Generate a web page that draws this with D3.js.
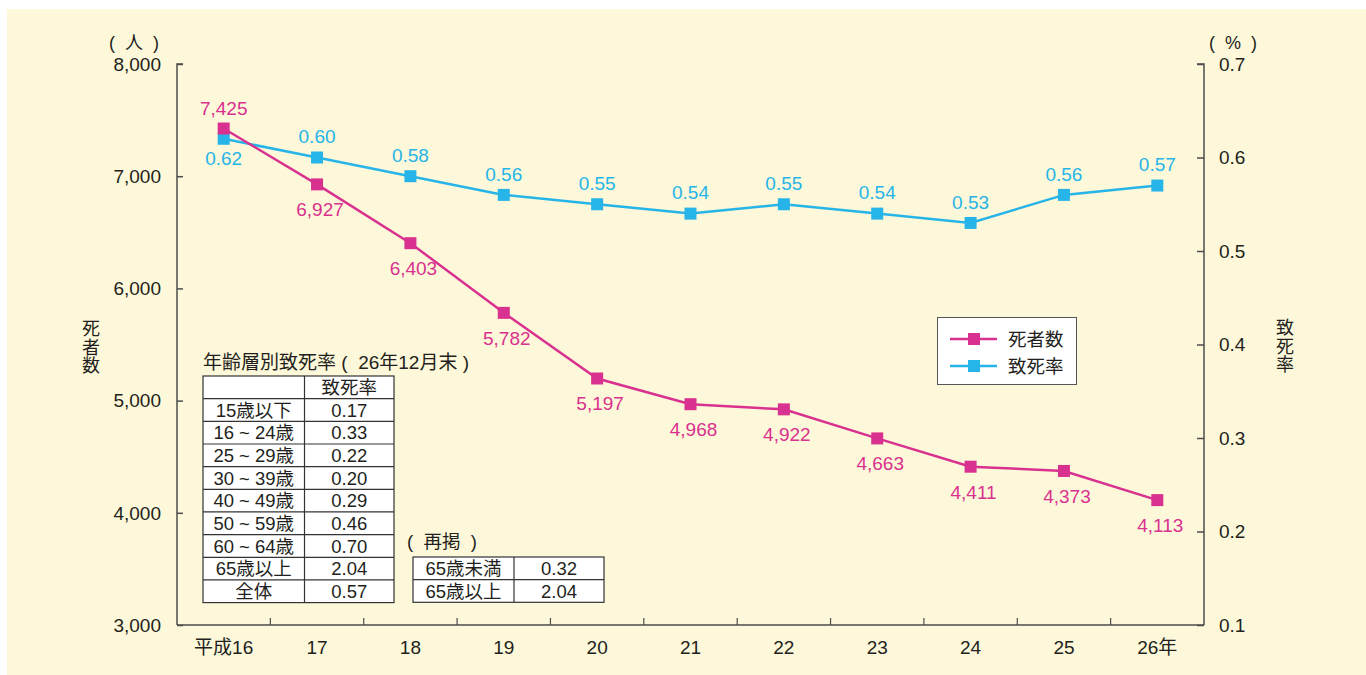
<!DOCTYPE html>
<html>
<head>
<meta charset="utf-8">
<script src="https://cdn.jsdelivr.net/npm/d3@7/dist/d3.min.js"></script>
<style>
  html, body { margin: 0; padding: 0; background: #ffffff; }
  svg { display: block; }
  text { font-family: "Liberation Sans", "Noto Sans CJK JP", sans-serif; white-space: pre; }
</style>
</head>
<body>
<svg id="chart" width="1366" height="675"></svg>
<script>
// Fiscal years (Heisei 16 .. 26)
const years = ["平成16", "17", "18", "19", "20", "21", "22", "23", "24", "25", "26年"];
// Traffic accident deaths (persons)
const deaths = [7425, 6927, 6403, 5782, 5197, 4968, 4922, 4663, 4411, 4373, 4113];
// Fatality rate (%)
const fatality = [0.62, 0.60, 0.58, 0.56, 0.55, 0.54, 0.55, 0.54, 0.53, 0.56, 0.57];

const leftTicks = [3000, 4000, 5000, 6000, 7000, 8000];
const rightTicks = [0.1, 0.2, 0.3, 0.4, 0.5, 0.6, 0.7];

// Age-group fatality table (end of Dec, H26)
const ageGroups = ["15歳以下", "16 ~ 24歳", "25 ~ 29歳", "30 ~ 39歳", "40 ~ 49歳", "50 ~ 59歳", "60 ~ 64歳", "65歳以上", "全体"];
const ageRates = ["0.17", "0.33", "0.22", "0.20", "0.29", "0.46", "0.70", "2.04", "0.57"];
// Restated groups
const subGroups = ["65歳未満", "65歳以上"];
const subRates = ["0.32", "2.04"];

const MAGENTA = "#d9318f";
const CYAN = "#27b4e8";
const TEXT = "#231f20";
const AXIS = "#4d4d4d";
const FS = 19;      // tick and value label size
const FT = 18.5;    // table text size

const svg = d3.select("#chart");

// background panel
svg.append("rect").attr("x", 7).attr("y", 9).attr("width", 1359).attr("height", 666).attr("fill", "#fdf8d9");

const pLeft = 177, pRight = 1204, pTop = 64, pBottom = 625;

const x = d3.scaleBand().domain(years).range([pLeft, pRight]).padding(0);
const cx = d => x(d) + x.bandwidth() / 2;
const yL = d3.scaleLinear().domain([3000, 8000]).range([pBottom, pTop]);
const yR = d3.scaleLinear().domain([0.1, 0.7]).range([pBottom, pTop]);

// left axis
const gL = svg.append("g").attr("transform", `translate(${pLeft},0)`)
  .call(d3.axisRight(yL).tickValues(leftTicks).tickSize(6).tickFormat(""));
gL.select(".domain").attr("stroke", AXIS).attr("stroke-width", 1.5).attr("d", `M6,${pTop}H0V${pBottom}`);
gL.selectAll(".tick line").attr("stroke", AXIS).attr("stroke-width", 1.5);
svg.append("g").selectAll("text").data(leftTicks).join("text")
  .attr("x", 161).attr("y", d => yL(d)).attr("dy", "0.36em")
  .attr("text-anchor", "end").attr("font-size", FS).attr("fill", TEXT)
  .text(d3.format(","));

// right axis
const gR = svg.append("g").attr("transform", `translate(${pRight},0)`)
  .call(d3.axisLeft(yR).tickValues(rightTicks).tickSize(7).tickFormat(""));
gR.select(".domain").attr("stroke", AXIS).attr("stroke-width", 1.5).attr("d", `M-7,${pTop}H0V${pBottom}`);
gR.selectAll(".tick line").attr("stroke", AXIS).attr("stroke-width", 1.5);
svg.append("g").selectAll("text").data(rightTicks).join("text")
  .attr("x", 1219).attr("y", d => yR(d)).attr("dy", "0.36em")
  .attr("text-anchor", "start").attr("font-size", FS).attr("fill", TEXT)
  .text(d3.format(".1f"));

// bottom axis: ticks at category boundaries, pointing up
svg.append("line").attr("x1", pLeft).attr("x2", pRight).attr("y1", pBottom).attr("y2", pBottom)
  .attr("stroke", AXIS).attr("stroke-width", 1.5);
svg.append("g").selectAll("line").data(years.slice(1)).join("line")
  .attr("x1", d => x(d)).attr("x2", d => x(d))
  .attr("y1", pBottom).attr("y2", pBottom - 7)
  .attr("stroke", AXIS).attr("stroke-width", 1.2);
svg.append("g").selectAll("text").data(years).join("text")
  .attr("x", d => cx(d)).attr("y", 647).attr("dy", "0.36em")
  .attr("text-anchor", "middle").attr("font-size", FS).attr("fill", TEXT)
  .text(d => d);

// axis units and titles
svg.append("text").attr("x", 134).attr("y", 43).attr("dy", "0.36em").attr("text-anchor", "middle")
  .attr("font-size", 18).attr("fill", TEXT).text("(  人  )");
svg.append("text").attr("x", 1233).attr("y", 43).attr("dy", "0.36em").attr("text-anchor", "middle")
  .attr("font-size", 18).attr("fill", TEXT).text("(  %  )");
function verticalTitle(str, xPos, yStart) {
  svg.append("g").selectAll("text").data(Array.from(str)).join("text")
    .attr("x", xPos).attr("y", (d, i) => yStart + i * 18.5).attr("dy", "0.36em")
    .attr("text-anchor", "middle").attr("font-size", 18).attr("fill", TEXT)
    .text(d => d);
}
verticalTitle("死者数", 91, 329);
verticalTitle("致死率", 1285, 328);

// series lines
const lineDeaths = d3.line().x((d, i) => cx(years[i])).y(d => yL(d));
const lineRate = d3.line().x((d, i) => cx(years[i])).y(d => yR(d));

svg.append("path").attr("d", lineRate(fatality)).attr("fill", "none").attr("stroke", CYAN).attr("stroke-width", 2.5);
svg.append("path").attr("d", lineDeaths(deaths)).attr("fill", "none").attr("stroke", MAGENTA).attr("stroke-width", 2.5);

const M = 12;
svg.append("g").selectAll("rect").data(fatality).join("rect")
  .attr("x", (d, i) => cx(years[i]) - M / 2).attr("y", d => yR(d) - M / 2)
  .attr("width", M).attr("height", M).attr("fill", CYAN);
svg.append("g").selectAll("rect").data(deaths).join("rect")
  .attr("x", (d, i) => cx(years[i]) - M / 2).attr("y", d => yL(d) - M / 2)
  .attr("width", M).attr("height", M).attr("fill", MAGENTA);

// value labels
svg.append("g").selectAll("text").data(fatality).join("text")
  .attr("x", (d, i) => cx(years[i]))
  .attr("y", (d, i) => yR(d) + (i === 0 ? 19 : -21)).attr("dy", "0.36em")
  .attr("text-anchor", "middle").attr("font-size", FS).attr("fill", CYAN)
  .text(d3.format(".2f"));
svg.append("g").selectAll("text").data(deaths).join("text")
  .attr("x", (d, i) => cx(years[i]) + (i === 0 ? 0 : 3))
  .attr("y", (d, i) => yL(d) + (i === 0 ? -20 : 25)).attr("dy", "0.36em")
  .attr("text-anchor", "middle").attr("font-size", FS).attr("fill", MAGENTA)
  .text(d3.format(","));

// legend
const lg = svg.append("g");
lg.append("rect").attr("x", 937.5).attr("y", 317.5).attr("width", 139).attr("height", 67)
  .attr("fill", "#ffffff").attr("stroke", "#555").attr("stroke-width", 1);
[["死者数", MAGENTA, 339], ["致死率", CYAN, 366]].forEach(([label, color, ly]) => {
  lg.append("line").attr("x1", 950).attr("x2", 997).attr("y1", ly).attr("y2", ly)
    .attr("stroke", color).attr("stroke-width", 2.5);
  lg.append("rect").attr("x", 974 - M / 2).attr("y", ly - M / 2).attr("width", M).attr("height", M).attr("fill", color);
  lg.append("text").attr("x", 1008).attr("y", ly).attr("dy", "0.36em")
    .attr("font-size", 18.5).attr("fill", TEXT).text(label);
});

// tables
function drawTable(rows, x0, xMid, x1, y0, rowH) {
  const g = svg.append("g");
  const n = rows.length;
  g.append("rect").attr("x", x0).attr("y", y0).attr("width", x1 - x0).attr("height", rowH * n)
    .attr("fill", "#ffffff").attr("stroke", "#333").attr("stroke-width", 1.2);
  g.append("line").attr("x1", xMid).attr("x2", xMid).attr("y1", y0).attr("y2", y0 + rowH * n)
    .attr("stroke", "#333").attr("stroke-width", 1.2);
  g.selectAll("line.row").data(d3.range(1, n)).join("line").attr("class", "row")
    .attr("x1", x0).attr("x2", x1).attr("y1", d => y0 + d * rowH).attr("y2", d => y0 + d * rowH)
    .attr("stroke", "#333").attr("stroke-width", 1.2);
  rows.forEach((r, i) => {
    const yc = y0 + rowH * (i + 0.5);
    g.append("text").attr("x", (x0 + xMid) / 2).attr("y", yc).attr("dy", "0.36em")
      .attr("text-anchor", "middle").attr("font-size", FT).attr("fill", TEXT).text(r[0]);
    g.append("text").attr("x", (xMid + x1) / 2).attr("y", yc).attr("dy", "0.36em")
      .attr("text-anchor", "middle").attr("font-size", FT).attr("fill", TEXT).text(r[1]);
  });
}

svg.append("text").attr("x", 203).attr("y", 362).attr("dy", "0.36em")
  .attr("font-size", 19).attr("fill", TEXT).text("年齢層別致死率 (  26年12月末 )");
drawTable([["", "致死率"]].concat(ageGroups.map((g, i) => [g, ageRates[i]])), 203, 304.5, 394, 376, 22.66);

svg.append("text").attr("x", 407).attr("y", 541).attr("dy", "0.36em")
  .attr("font-size", 18.5).attr("fill", TEXT).text("(  再掲  )");
drawTable(subGroups.map((g, i) => [g, subRates[i]]), 413, 514, 604, 557, 22.66);
</script>
</body>
</html>
